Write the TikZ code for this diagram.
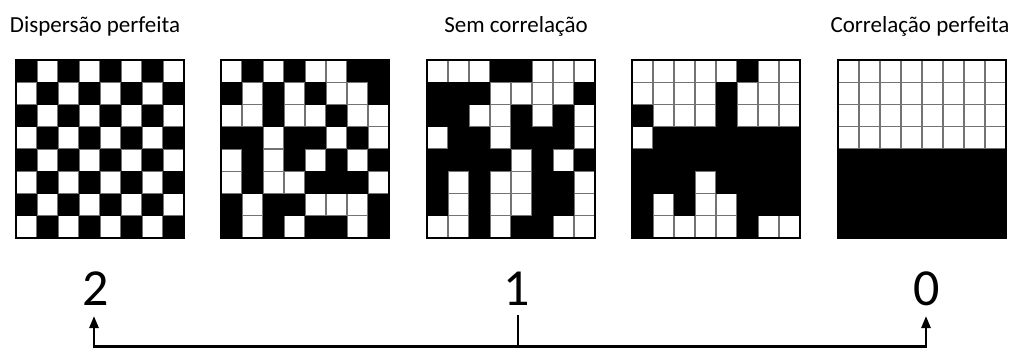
\documentclass[tikz,border=0pt]{standalone}
\usepackage{fontspec}
\setmainfont{Carlito}
\usetikzlibrary{arrows.meta}
\newcommand\blackrow[3]{\foreach \c in {#3}{\fill[black] (#1+\c*21,60+#2*22.25) rectangle ++(21,22.25);}}
\begin{document}
\begin{tikzpicture}[x=1pt,y=-1pt,
  gridline/.style={draw=black!55,line width=1.1pt},
  border/.style={draw=black,line width=1.5pt},
  title/.style={font=\fontsize{23}{27}\selectfont,anchor=base},
  num/.style={font=\fontsize{52}{60}\selectfont,anchor=base},
  axis/.style={line width=2.6pt},
  tip/.style={-{Triangle[length=12pt,width=9pt]}}]
\useasboundingbox (0,0) rectangle (1013,349);
% grid lines
\foreach \gx in {16,221,427,632,838}{
  \foreach \i in {1,...,7}{
    \draw[gridline] (\gx+\i*21,60) -- (\gx+\i*21,238);
    \draw[gridline] (\gx,60+\i*22.25) -- (\gx+168,60+\i*22.25);
  }
}
% grid 1: checkerboard
\foreach \r in {0,...,7}{
  \foreach \c in {0,...,7}{
    \pgfmathtruncatemacro\parity{mod(\r+\c,2)}
    \ifnum\parity=0 \fill[black] (16+\c*21,60+\r*22.25) rectangle ++(21,22.25);\fi
  }
}
% grid 2
\blackrow{221}{0}{1,3,6,7}
\blackrow{221}{1}{0,2,4,7}
\blackrow{221}{2}{2,5}
\blackrow{221}{3}{0,1,3,4,6}
\blackrow{221}{4}{1,3,5,7}
\blackrow{221}{5}{1,4,5,6}
\blackrow{221}{6}{0,2,3,7}
\blackrow{221}{7}{0,2,4,5,7}
% grid 3
\blackrow{427}{0}{3,4}
\blackrow{427}{1}{0,1,2,7}
\blackrow{427}{2}{0,1,4,6}
\blackrow{427}{3}{1,2,4,5,6}
\blackrow{427}{4}{0,1,2,3,5,7}
\blackrow{427}{5}{0,2,5,6}
\blackrow{427}{6}{0,2,5,6}
\blackrow{427}{7}{2,4,5}
% grid 4
\blackrow{632}{0}{5}
\blackrow{632}{1}{4}
\blackrow{632}{2}{0,4}
\blackrow{632}{3}{1,2,3,4,5,6,7}
\blackrow{632}{4}{0,1,2,3,4,5,6,7}
\blackrow{632}{5}{0,1,2,4,5,6,7}
\blackrow{632}{6}{0,2,5,6,7}
\blackrow{632}{7}{0,5}
% grid 5
\fill[black] (838,60+4*22.25) rectangle (838+168,238);
% borders
\foreach \gx in {16,221,427,632,838}{
  \draw[border] (\gx,60) rectangle (\gx+168,238);
}
% titles
\node[title] (t1) at (95,32) {Dispersão perfeita};
\node[title] (t2) at (516,32) {Sem correlação};
\node[title] (t3) at (920,32) {Correlação perfeita};
% numbers
\node[num] (n2) at (96,305) {2};
\node[num] (n1) at (517,305) {1};
\node[num] (n0) at (927,305) {0};
% axis
\coordinate (L) at (94,316);
\coordinate (R) at (926,316);
\coordinate (Mt) at (518,315);
\coordinate (Mb) at (518,346.5);
\draw[axis,tip] (Mb) -| (L);
\draw[axis,tip] (Mb) -| (R);
\draw[axis] (Mt) -- (Mb);
\end{tikzpicture}
\end{document}
